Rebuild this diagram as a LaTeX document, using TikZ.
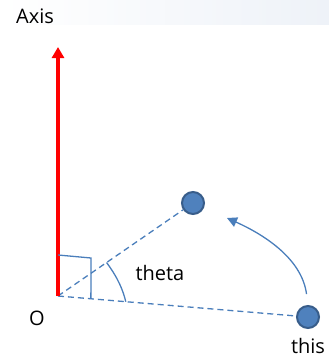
\documentclass[tikz,border=0pt]{standalone}
\usepackage{fontspec}
\setmainfont{Open Sans}
\usetikzlibrary{arrows.meta, calc}
\definecolor{LineBlue}{HTML}{4A7EBB}
\definecolor{BallFill}{HTML}{4F81BD}
\definecolor{BallEdge}{HTML}{385D8A}
\definecolor{Band}{HTML}{EEF2F8}

\begin{document}
\begin{tikzpicture}[x=1pt, y=-1pt,
          lbl/.style={font=\fontsize{20}{20}\selectfont, text=black, inner sep=0pt},
          ball/.style={circle, draw=BallEdge, fill=BallFill, line width=2pt,
                       minimum size=22pt, inner sep=0pt},
          guide/.style={draw=LineBlue, line width=1.3pt, dash pattern=on 6pt off 4pt},
          anglemark/.style={draw=LineBlue, line width=1.3pt},
          axisarr/.style={-{Triangle[length=11pt, width=12pt]}, red, line width=4pt},
          swing/.style={-{Triangle[length=10pt, width=10pt]}, draw=LineBlue, fill=none,
                        line width=1.3pt}
        ]
          \useasboundingbox (0,0) rectangle (329,360);
          \shade[left color=white, right color=Band] (0,0) rectangle (329,24);
          % points
          \coordinate (O) at (58,296);
          \coordinate (top) at (58,47);
          \node[ball] (p1) at (193,203) {};
          \node[ball] (p2) at (308,317) {};
          \coordinate (tip) at (227,218);
          % labels
          \node[lbl] (axis) at (35,16) {Axis};
          \node[lbl] (o) at (37,318) {O};
          \node[lbl] (theta) at (160,273) {theta};
          \node[lbl] (this) at (308,346) {this};
          % lines
          \draw[guide] (O) -- (p1);
          \draw[guide] (O) -- (p2);
          \draw[axisarr] (O) -- (top);
          \draw[anglemark] ($(O)!41pt!(top)$) -- (91,258) -- ($(O)!33pt!(p2)$);
          \draw[anglemark] ($(O)!59pt!(p1)$) .. controls (118,278) and (123,290) .. ($(O)!68pt!(p2)$);
          \draw[swing, shorten <=11pt] (p2.north) .. controls (302,260) and (267,236) .. (tip);
        \end{tikzpicture}
\end{document}
